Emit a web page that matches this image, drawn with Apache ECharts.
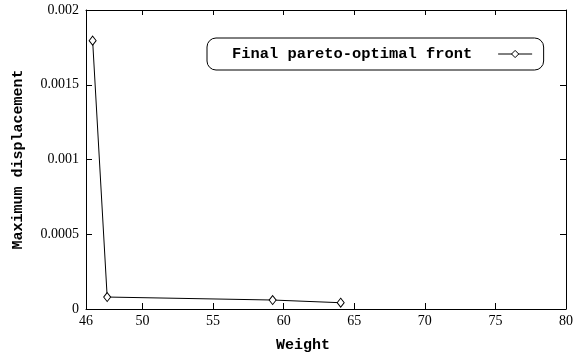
<!DOCTYPE html>
<html>
<head>
<meta charset="utf-8">
<script src="https://cdn.jsdelivr.net/npm/echarts@6/dist/echarts.min.js"></script>
<style>
  html, body { margin: 0; padding: 0; background: #fff; }
  #main { width: 581px; height: 360px; }
</style>
</head>
<body>
<div id="main"></div>
<script>
// data
const weights = [46.47, 47.5, 59.22, 64.04]
const displacements = [0.001795, 0.00008, 0.00006, 0.000042]
const xLabels = [46, 50, 55, 60, 65, 70, 75, 80]
const xTicks = [50, 55, 60, 65, 70, 75]
const seriesName = 'Final pareto-optimal front'

const chart = echarts.init(document.getElementById('main'))

const labelFont = { fontFamily: 'Liberation Serif', fontSize: 14, color: '#000' }
const nameFont = { fontFamily: 'Liberation Mono', fontWeight: 'bold', fontSize: 15, color: '#000' }
const line = { show: true, onZero: false, lineStyle: { color: '#000', width: 1 } }

chart.setOption({
  animation: false,
  grid: { left: 86, right: 15, top: 10, bottom: 51 },
  legend: {
    data: [seriesName],
    left: 207,
    top: 38,
    align: 'right',
    itemWidth: 34,
    itemHeight: 9,
    padding: [8, 11, 8, 25],
    borderColor: '#000',
    borderWidth: 1,
    borderRadius: 9,
    itemStyle: { color: '#fff', borderColor: '#000', borderWidth: 1 },
    lineStyle: { color: '#000', width: 1 },
    textStyle: Object.assign({}, nameFont, { fontSize: 15.4, lineHeight: 16, padding: [0, 21, 0, 0] })
  },
  xAxis: [
    {
      type: 'value',
      min: 46,
      max: 80,
      name: 'Weight',
      nameLocation: 'middle',
      nameGap: 29,
      nameTextStyle: Object.assign({}, nameFont, { padding: [0, 46, 0, 0] }),
      axisLine: line,
      axisTick: { show: true, inside: true, length: 6, customValues: xTicks, lineStyle: { color: '#000' } },
      axisLabel: Object.assign({ margin: 5, customValues: xLabels }, labelFont),
      splitLine: { show: false }
    },
    {
      type: 'value',
      position: 'top',
      min: 46,
      max: 80,
      axisLine: line,
      axisTick: { show: true, inside: true, length: 5, customValues: xTicks, lineStyle: { color: '#000' } },
      axisLabel: { show: false },
      splitLine: { show: false }
    }
  ],
  yAxis: [
    {
      type: 'value',
      min: 0,
      max: 0.002,
      interval: 0.0005,
      name: 'Maximum displacement',
      nameLocation: 'middle',
      nameGap: 60,
      nameTextStyle: nameFont,
      axisLine: line,
      axisTick: { show: true, inside: true, length: 6, lineStyle: { color: '#000' } },
      axisLabel: Object.assign({ margin: 7 }, labelFont),
      splitLine: { show: false }
    },
    {
      type: 'value',
      position: 'right',
      min: 0,
      max: 0.002,
      interval: 0.0005,
      axisLine: line,
      axisTick: { show: true, inside: true, length: 6, lineStyle: { color: '#000' } },
      axisLabel: { show: false },
      splitLine: { show: false }
    }
  ],
  series: [
    {
      name: seriesName,
      type: 'line',
      data: weights.map((w, i) => [w, displacements[i]]),
      symbol: 'diamond',
      symbolSize: [7, 9],
      lineStyle: { color: '#000', width: 1 },
      itemStyle: { color: '#fff', borderColor: '#000', borderWidth: 1 }
    }
  ]
})
</script>
</body>
</html>
